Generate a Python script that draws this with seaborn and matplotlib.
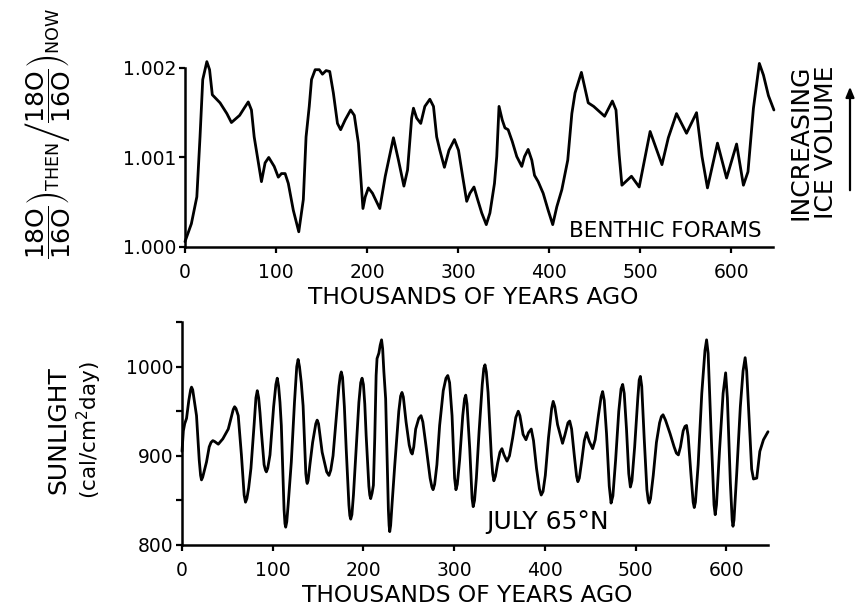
import matplotlib
matplotlib.use("Agg")
import matplotlib.pyplot as plt
from matplotlib.patches import FancyArrowPatch
import pandas as pd
import seaborn as sns

# Benthic foraminifera oxygen-isotope ratio, relative to present
foram_kyr = [0, 7, 13, 16.5, 19.5, 24, 27, 30, 38.5, 46,
             51, 60, 65, 69.5, 73, 76, 84, 88, 92, 98,
             102.5, 106, 110, 113.5, 119, 125, 130, 133, 136.5, 139,
             143, 147.5, 151, 155, 159, 163, 167.5, 171, 176, 182,
             186, 190.5, 195.5, 198, 201.5, 206, 214, 220, 229, 234.5,
             240.5, 244.5, 249, 251, 254.5, 259, 263.5, 269, 273, 276.5,
             280, 285, 290, 296, 300.5, 305, 309.5, 313, 317.5, 321.5,
             326, 331, 335, 340, 342.5, 345, 348.5, 351.5, 355, 359.5,
             364.5, 370, 373, 377, 381, 384, 388, 393.5, 399, 404,
             408.5, 414, 420.5, 425, 428.5, 435.5, 443, 449, 461, 469.5,
             473.5, 477, 480, 490.5, 499, 511, 524, 531, 540, 551,
             562, 568, 574, 585, 595, 606, 613.5, 618.5, 624.5, 631,
             635.5, 641, 647]
foram_ratio = [1.00006, 1.00026, 1.00056, 1.00123, 1.00187, 1.00207, 1.00198, 1.00170, 1.00161, 1.00149,
               1.00139, 1.00147, 1.00155, 1.00162, 1.00153, 1.00123, 1.00073, 1.00094, 1.00100, 1.00090,
               1.00078, 1.00082, 1.00082, 1.00071, 1.00041, 1.00017, 1.00053, 1.00123, 1.00157, 1.00187,
               1.00198, 1.00198, 1.00193, 1.00197, 1.00196, 1.00172, 1.00138, 1.00131, 1.00142, 1.00153,
               1.00147, 1.00116, 1.00043, 1.00056, 1.00066, 1.00060, 1.00043, 1.00079, 1.00122, 1.00097,
               1.00068, 1.00086, 1.00144, 1.00155, 1.00144, 1.00138, 1.00157, 1.00165, 1.00157, 1.00123,
               1.00108, 1.00089, 1.00108, 1.00120, 1.00108, 1.00079, 1.00051, 1.00060, 1.00067, 1.00053,
               1.00038, 1.00025, 1.00038, 1.00071, 1.00101, 1.00157, 1.00142, 1.00133, 1.00131, 1.00118,
               1.00101, 1.00090, 1.00101, 1.00109, 1.00097, 1.00080, 1.00073, 1.00060, 1.00041, 1.00025,
               1.00045, 1.00064, 1.00097, 1.00149, 1.00172, 1.00195, 1.00161, 1.00157, 1.00146, 1.00163,
               1.00153, 1.00103, 1.00069, 1.00079, 1.00067, 1.00129, 1.00092, 1.00122, 1.00149, 1.00127,
               1.00150, 1.00101, 1.00066, 1.00116, 1.00077, 1.00115, 1.00069, 1.00084, 1.00155, 1.00205,
               1.00192, 1.00169, 1.00153]

# July insolation at 65 degrees north (cal/cm^2/day)
sun_kyr = [0, 1.5, 3, 5, 7.5, 9.5, 10.5, 11.8, 13.5, 16,
           19, 20.5, 21.5, 22.8, 25, 27, 30, 32, 34, 36,
           40, 45, 51, 54, 56.5, 58, 59.5, 62, 65.5, 68.5,
           70, 71.5, 73.5, 76, 79.5, 81.5, 83, 84.5, 86, 87.5,
           90.5, 92, 93, 94.5, 97, 101, 103.5, 105, 106.5, 108,
           109.5, 112.5, 113.5, 114.3, 115.5, 117, 120.5, 124, 126.5, 128,
           129.5, 131.5, 133.5, 136.5, 137.5, 138, 139, 141, 144, 147.5,
           149, 150.5, 154.5, 159.5, 162, 164, 166.5, 169, 173, 174.5,
           175.6, 177, 179, 181, 184, 185, 186, 187.3, 189, 192,
           195, 197, 198.5, 200, 201.5, 203, 206, 207, 208, 209.5,
           211, 212.5, 214, 215, 217, 218.5, 220, 221.2, 222.5, 224.5,
           227.5, 228.3, 229, 230, 231.5, 234.5, 239, 241, 242.5, 244,
           245.5, 247, 250.5, 252.5, 253.8, 255.5, 257.6, 261, 263.5, 265.5,
           269.4, 273.5, 275.5, 276.8, 278.5, 281, 284, 288, 291, 293,
           295, 297.7, 300.5, 302, 303.5, 306, 309.5, 311.5, 312.8, 314.2,
           317.2, 319.8, 321, 322.5, 324.5, 327.5, 331, 332.7, 334, 335.5,
           337.4, 341, 342.5, 343.8, 345.5, 348, 350.5, 352.7, 355, 358.3,
           361, 364.5, 368, 370.7, 372.5, 376, 379.2, 382, 385, 387.5,
           390.8, 394, 396, 398, 400.5, 404, 407.5, 409.2, 411, 414,
           419.5, 422, 425.5, 427.4, 429.5, 432.5, 435, 436.4, 438, 440.5,
           443.5, 446, 449, 452.7, 455.5, 459, 462, 463.7, 465.5, 468,
           471, 473, 475, 478, 481.5, 484, 485.8, 487.5, 490, 492.5,
           494.3, 496, 499, 502.5, 504, 505.3, 506.8, 509.5, 512.5, 514,
           515, 516.5, 519.5, 523, 526.5, 528.5, 530.3, 533, 538, 542.5,
           545, 547.2, 549.5, 552.5, 554.5, 556.2, 558, 561, 563.5, 564.7,
           566, 569, 573, 576.5, 578.3, 580, 583.5, 586.5, 587.8, 589.2,
           592.5, 596.5, 599.3, 601.2, 604.5, 606.5, 607.4, 608.5, 611.5, 615.5,
           618.5, 620.8, 622.5, 625.5, 628, 630, 633.6, 637, 641, 646]
sun_value = [905, 928, 936, 942, 962, 974, 977, 974, 962, 945,
             895, 878, 873, 876, 885, 893, 910, 915, 917, 916,
             913, 919, 930, 942, 952, 955, 953, 945, 901, 856,
             848, 852, 864, 886, 935, 965, 973, 965, 948, 927,
             890, 884, 882, 886, 901, 955, 980, 987, 978, 960,
             934, 840, 824, 820, 826, 845, 893, 960, 1000, 1008,
             1000, 982, 956, 880, 871, 869, 872, 890, 915, 936,
             940, 936, 904, 882, 878, 884, 900, 930, 978, 990,
             994, 988, 955, 908, 845, 833, 829, 834, 856, 908,
             960, 982, 987, 980, 958, 923, 866, 856, 852, 858,
             867, 920, 990, 1009, 1015, 1024, 1030, 1020, 995, 964,
             840, 822, 815, 822, 845, 889, 950, 967, 971, 966,
             952, 938, 912, 904, 902, 910, 930, 942, 945, 938,
             908, 875, 865, 862, 868, 890, 934, 973, 987, 990,
             982, 945, 875, 862, 868, 895, 945, 964, 968, 958,
             908, 852, 843, 850, 875, 927, 980, 998, 1002, 994,
             971, 900, 880, 872, 877, 892, 904, 908, 901, 894,
             900, 920, 943, 950, 945, 924, 918, 926, 930, 917,
             886, 863, 856, 860, 878, 920, 953, 961, 955, 935,
             914, 923, 937, 939, 930, 900, 877, 871, 875, 893,
             917, 926, 916, 908, 918, 945, 966, 972, 962, 925,
             866, 847, 855, 895, 950, 975, 980, 970, 930, 880,
             865, 872, 910, 965, 985, 989, 978, 920, 862, 850,
             847, 852, 878, 915, 937, 944, 946, 940, 925, 910,
             903, 901, 910, 928, 933, 934, 922, 880, 848, 842,
             848, 890, 970, 1018, 1030, 1015, 920, 845, 834, 845,
             905, 970, 993, 965, 870, 828, 821, 828, 880, 955,
             995, 1010, 995, 935, 885, 874, 875, 905, 918, 927]

x_ticks = [0, 100, 200, 300, 400, 500, 600]
ratio_ticks = [1.000, 1.001, 1.002]
ratio_tick_labels = ["1.000", "1.001", "1.002"]
sun_ticks = [800, 900, 1000]
sun_minor_ticks = [850, 950, 1050]

foram = pd.DataFrame({"kyr": foram_kyr, "ratio": foram_ratio})
sun = pd.DataFrame({"kyr": sun_kyr, "value": sun_value})

sns.set_style("ticks")
plt.rcParams["font.family"] = ["DejaVu Sans"]
plt.rcParams["mathtext.fontset"] = "dejavusans"
plt.rcParams["mathtext.default"] = "regular"
for key in ("text.color", "axes.labelcolor", "xtick.color", "ytick.color", "axes.edgecolor"):
    plt.rcParams[key] = "black"

W, H = 856, 607
fig = plt.figure(figsize=(W / 100, H / 100), dpi=100)
fig.patch.set_facecolor("white")


def frac_box(x0, y0, x1, y1):
    return [x0 / W, 1 - y1 / H, (x1 - x0) / W, (y1 - y0) / H]


def style_axes(ax):
    for s in ("top", "right"):
        ax.spines[s].set_visible(False)
    for s in ("left", "bottom"):
        ax.spines[s].set_linewidth(1.8)
        ax.spines[s].set_color("black")
    ax.tick_params(axis="both", which="major", direction="out", length=4.5,
                   width=1.6, colors="black", labelsize=13.5)
    ax.tick_params(axis="x", which="major", pad=7)
    ax.tick_params(axis="y", which="major", pad=1.5)
    ax.set_facecolor("white")
    ax.set_xlabel("")
    ax.set_ylabel("")


# upper panel: isotope ratio
ax1 = fig.add_axes(frac_box(185, 50, 773, 247))
sns.lineplot(data=foram, x="kyr", y="ratio", ax=ax1, color="black",
             linewidth=2.0, estimator=None, sort=False)
ax1.lines[0].set_clip_on(False)
ax1.lines[0].set_solid_joinstyle("round")
ax1.set_xlim(0, 646)
ax1.set_ylim(1.000, 1.0022)
ax1.spines["left"].set_bounds(1.000, 1.002)
ax1.set_xticks(x_ticks)
ax1.set_yticks(ratio_ticks)
ax1.set_yticklabels(ratio_tick_labels)
style_axes(ax1)
ax1.text(528, 1.000175, "BENTHIC FORAMS", ha="center", va="center", fontsize=15.5)

# lower panel: insolation
ax2 = fig.add_axes(frac_box(182, 322, 768, 545))
sns.lineplot(data=sun, x="kyr", y="value", ax=ax2, color="black",
             linewidth=2.0, estimator=None, sort=False)
ax2.lines[0].set_clip_on(False)
ax2.lines[0].set_solid_joinstyle("round")
ax2.set_xlim(0, 646)
ax2.set_ylim(800, 1050)
ax2.set_xticks(x_ticks)
ax2.set_yticks(sun_ticks)
ax2.set_yticks(sun_minor_ticks, minor=True)
style_axes(ax2)
ax2.tick_params(axis="y", which="minor", direction="out", length=4.5, width=1.6)
ax2.text(403, 826, "JULY 65°N", ha="center", va="center", fontsize=18)

# axis titles
fig.text(473 / W, 1 - 298 / H, "THOUSANDS OF YEARS AGO", ha="center", va="center", fontsize=16.8)
fig.text(467 / W, 1 - 595 / H, "THOUSANDS OF YEARS AGO", ha="center", va="center", fontsize=16.8)

fig.text(47 / W, 1 - 133 / H,
         r"$\left.\dfrac{18O}{16O}\right)_{THEN}\left/\dfrac{18O}{16O}\right)_{NOW}$",
         rotation=90, ha="center", va="center", fontsize=18)

fig.text(58 / W, 1 - 430 / H, "SUNLIGHT", rotation=90, ha="center", va="center", fontsize=18)
fig.text(89 / W, 1 - 430 / H, r"(cal/cm$^{2}$day)", rotation=90, ha="center", va="center", fontsize=15.5)

fig.text(800 / W, 1 - 142 / H, "INCREASING", rotation=90, ha="center", va="center", fontsize=18)
fig.text(826 / W, 1 - 142 / H, "ICE VOLUME", rotation=90, ha="center", va="center", fontsize=18)
fig.add_artist(FancyArrowPatch(
    (850 / W, 1 - 193 / H), (850 / W, 1 - 84 / H), transform=fig.transFigure,
    arrowstyle="-|>,head_length=6,head_width=2.5", color="black", linewidth=1.6))

fig.savefig("out.png", dpi=100, facecolor="white")
